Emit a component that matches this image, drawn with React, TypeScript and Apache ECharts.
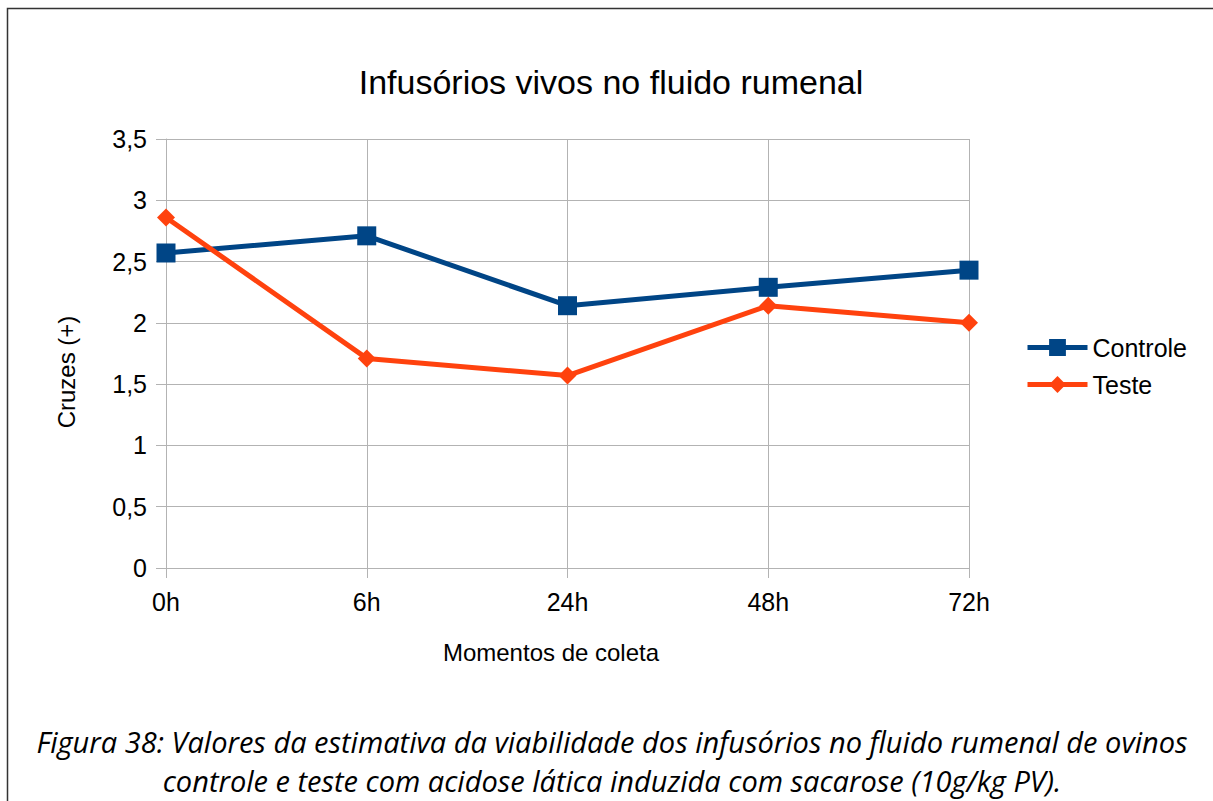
import React, { useEffect, useRef } from "react";
import * as echarts from "echarts";

const categories = ["0h", "6h", "24h", "48h", "72h"];
const controle = [2.57, 2.71, 2.14, 2.29, 2.43];
const teste = [2.86, 1.71, 1.57, 2.14, 2.0];
const titleText = "Infusórios vivos no fluido rumenal";
const yName = "Cruzes (+)";
const xName = "Momentos de coleta";
const captionLine1 = "Figura 38: Valores da estimativa da viabilidade dos infusórios no fluido rumenal de ovinos";
const captionLine2 = "controle e teste com acidose lática induzida com sacarose (10g/kg PV).";

export default function App() {
  const ref = useRef<HTMLDivElement>(null);
  useEffect(() => {
    document.body.style.margin = "0";
    document.body.style.overflow = "hidden";
    const chart = echarts.init(ref.current!, null, { renderer: "svg" });
    const font = "'Liberation Sans', Arial, sans-serif";
    const capFont = "'Open Sans', sans-serif";
    chart.setOption({
      animation: false,
      backgroundColor: "#ffffff",
      title: {
        text: titleText,
        left: 606,
        textAlign: "center",
        top: 60,
        textStyle: { fontFamily: font, fontSize: 34, fontWeight: "normal", color: "#000" },
      },
      grid: { left: 166, right: 244, top: 139, bottom: 233, containLabel: false },
      legend: {
        orient: "vertical",
        left: 1020,
        top: 330,
        itemWidth: 60,
        itemHeight: 21,
        itemGap: 12,
        itemTextGap: 8,
        textStyle: { fontFamily: font, fontSize: 25, color: "#000" },
        data: [
          { name: "Controle", lineStyle: { width: 5 } },
          { name: "Teste", lineStyle: { width: 5 } },
        ],
      },
      xAxis: {
        type: "category",
        data: categories,
        boundaryGap: false,
        axisLine: { lineStyle: { color: "#b3b3b3" } },
        axisTick: { show: true, length: 10, alignWithLabel: true, lineStyle: { color: "#b3b3b3" } },
        axisLabel: { fontFamily: font, fontSize: 25, color: "#000", margin: 21 },
        splitLine: { show: true, lineStyle: { color: "#b3b3b3" } },
      },
      yAxis: {
        type: "value",
        min: 0,
        max: 3.5,
        interval: 0.5,
        axisLine: { show: true, lineStyle: { color: "#b3b3b3" } },
        axisTick: { show: true, length: 10, lineStyle: { color: "#b3b3b3" } },
        axisLabel: {
          fontFamily: font,
          fontSize: 25,
          color: "#000",
          margin: 19,
          formatter: (v: number) => String(v).replace(".", ","),
        },
        splitLine: { show: true, lineStyle: { color: "#b3b3b3" } },
      },
      series: [
        {
          name: "Controle",
          type: "line",
          data: controle,
          symbol: "rect",
          symbolSize: 19,
          lineStyle: { width: 5, color: "#004586" },
          itemStyle: { color: "#004586" },
        },
        {
          name: "Teste",
          type: "line",
          data: teste,
          symbol: "diamond",
          symbolSize: 18,
          lineStyle: { width: 5, color: "#ff420e" },
          itemStyle: { color: "#ff420e" },
        },
      ],
      graphic: [
        {
          type: "rect",
          shape: { x: 7.5, y: 8.5, width: 1400, height: 1000 },
          style: { fill: "none", stroke: "#333", lineWidth: 1.5 },
          silent: true,
        },
        {
          type: "text",
          x: 551,
          y: 652,
          style: {
            text: xName,
            fontFamily: font,
            fontSize: 24,
            fill: "#000",
            textAlign: "center",
            textVerticalAlign: "middle",
          },
        },
        {
          type: "text",
          x: 66,
          y: 372,
          rotation: Math.PI / 2,
          style: {
            text: yName,
            fontFamily: font,
            fontSize: 24,
            fill: "#000",
            textAlign: "center",
            textVerticalAlign: "middle",
          },
        },
        {
          type: "text",
          x: 612,
          y: 741,
          style: {
            text: captionLine1,
            fontFamily: capFont,
            fontStyle: "italic",
            fontSize: 29,
            fill: "#000",
            textAlign: "center",
            textVerticalAlign: "middle",
          },
        },
        {
          type: "text",
          x: 612,
          y: 780,
          style: {
            text: captionLine2,
            fontFamily: capFont,
            fontStyle: "italic",
            fontSize: 29,
            fill: "#000",
            textAlign: "center",
            textVerticalAlign: "middle",
          },
        },
      ],
    });
    return () => chart.dispose();
  }, []);
  return <div ref={ref} style={{ position: "absolute", left: 0, top: 0, width: 1213, height: 801 }} />;
}
